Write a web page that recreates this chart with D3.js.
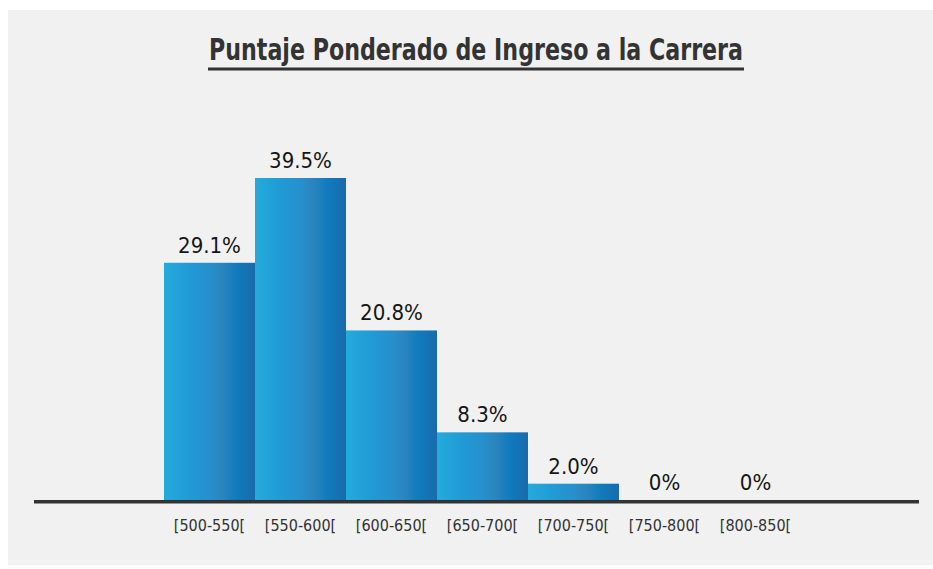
<!DOCTYPE html>
<html>
<head>
<meta charset="utf-8">
<script src="https://cdn.jsdelivr.net/npm/d3@7"></script>
<style>
  html, body { margin: 0; padding: 0; background: #ffffff; }
  svg { display: block; }
</style>
</head>
<body>
<svg id="chart" width="933" height="569"></svg>
<script>
const categories = ["[500-550[", "[550-600[", "[600-650[", "[650-700[", "[700-750[", "[750-800[", "[800-850["];
const values = [29.1, 39.5, 20.8, 8.3, 2.0, 0, 0];
const valueLabels = ["29.1%", "39.5%", "20.8%", "8.3%", "2.0%", "0%", "0%"];
const title = "Puntaje Ponderado de Ingreso a la Carrera";

const W = 933, H = 569;
const svg = d3.select("#chart");
const font = "'Liberation Sans Narrow', 'DejaVu Sans Condensed', 'Roboto', sans-serif";

// panel background
svg.append("rect").attr("x", 8).attr("y", 10).attr("width", W - 8).attr("height", 555).attr("fill", "#f1f1f1");

// gradient
const defs = svg.append("defs");
const grad = defs.append("linearGradient").attr("id", "barGrad")
  .attr("x1", "0%").attr("x2", "100%").attr("y1", "0%").attr("y2", "0%");
[[0, "#23abdc"], [0.3, "#2199d5"], [0.5, "#2690cd"], [0.65, "#2a84bd"], [0.8, "#0f7bbd"], [1, "#1a6aab"]]
  .forEach(([o, c]) => grad.append("stop").attr("offset", o).attr("stop-color", c));

const baseY = 500;
const x = d3.scaleBand().domain(categories).range([164, 801]).padding(0);
const y = d3.scaleLinear().domain([0, 39.5]).range([baseY, 178]);

// bars
svg.append("g").selectAll("rect").data(values).join("rect")
  .attr("x", (d, i) => x(categories[i]))
  .attr("y", d => y(d))
  .attr("width", x.bandwidth())
  .attr("height", d => baseY - y(d))
  .attr("fill", "url(#barGrad)");

// value labels
svg.append("g").selectAll("text").data(values).join("text")
  .attr("x", (d, i) => x(categories[i]) + x.bandwidth() / 2)
  .attr("y", d => y(d) - 10)
  .attr("text-anchor", "middle")
  .attr("font-family", font)
  .attr("font-size", 22)
  .attr("fill", "#151515")
  .text((d, i) => valueLabels[i]);

// axis
const axisG = svg.append("g").attr("transform", `translate(0,${baseY})`)
  .call(d3.axisBottom(x).tickSize(0).tickPadding(20));
axisG.select(".domain").remove();
axisG.selectAll("text")
  .attr("font-family", font)
  .attr("font-size", 16)
  .attr("fill", "#333");
svg.append("line").attr("x1", 34).attr("x2", 919).attr("y1", 501.8).attr("y2", 501.8)
  .attr("stroke", "#333").attr("stroke-width", 3.5);

// title
svg.append("text")
  .attr("x", 476).attr("y", 60)
  .attr("text-anchor", "middle")
  .attr("font-family", font)
  .attr("font-weight", "bold")
  .attr("font-size", 30)
  .attr("fill", "#333")
  .attr("textLength", 534)
  .attr("lengthAdjust", "spacingAndGlyphs")
  .text(title);
svg.append("line").attr("x1", 208).attr("x2", 744).attr("y1", 69).attr("y2", 69)
  .attr("stroke", "#333").attr("stroke-width", 3);
</script>
</body>
</html>
